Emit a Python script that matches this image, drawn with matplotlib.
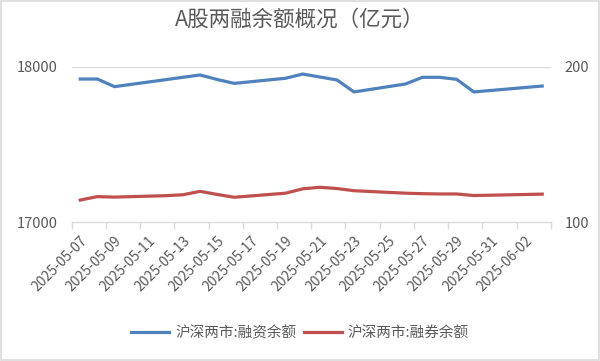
import numpy as np
import matplotlib
matplotlib.use("Agg")
import matplotlib.pyplot as plt
import matplotlib.dates as mdates
from matplotlib.patches import Rectangle

plt.rcParams['font.family'] = ['Noto Sans CJK SC', 'DejaVu Sans']

# --- DATA ---
dates = ["2025-05-07", "2025-05-08", "2025-05-09", "2025-05-12", "2025-05-13",
         "2025-05-14", "2025-05-15", "2025-05-16", "2025-05-19", "2025-05-20",
         "2025-05-21", "2025-05-22", "2025-05-23", "2025-05-26", "2025-05-27",
         "2025-05-28", "2025-05-29", "2025-05-30", "2025-06-03"]
margin_finance = [17921, 17921, 17872, 17917, 17932, 17947, 17918, 17893, 17926, 17953,
                  17934, 17915, 17838, 17889, 17932, 17932, 17919, 17838, 17876]
margin_short = [114.4, 116.6, 116.3, 117.2, 117.8, 120.0, 118.0, 116.2, 118.8, 121.6,
                122.6, 121.8, 120.4, 118.8, 118.5, 118.3, 118.3, 117.3, 118.2]
series_names = ["沪深两市:融资余额", "沪深两市:融券余额"]
title = "A股两融余额概况（亿元）"
left_ticks = [17000, 18000]
right_ticks = [100, 200]
x_start, x_end = "2025-05-07", "2025-06-04"

BLUE = "#4F81BD"
RED = "#C0504D"
TXT = "#595959"
GRID = "#D9D9D9"

d = np.array(dates, dtype="datetime64[D]")
x = mdates.date2num(d) + 0.5  # points sit in the middle of each day slot
x0 = mdates.date2num(np.datetime64(x_start))
x1 = mdates.date2num(np.datetime64(x_end))

fig = plt.figure(figsize=(6.0, 3.61), dpi=100)
ax = fig.add_axes([0.1195, 0.3837, 0.7985, 0.4315])
ax2 = ax.twinx()

l1, = ax.plot(x, margin_finance, color=BLUE, lw=2.3, solid_joinstyle="round")
l2, = ax2.plot(x, margin_short, color=RED, lw=2.3, solid_joinstyle="round")

ax.set_xlim(x0, x1)
ax.set_ylim(left_ticks[0], left_ticks[-1])
ax2.set_ylim(right_ticks[0], right_ticks[-1])
ax.set_yticks(left_ticks)
ax2.set_yticks(right_ticks)
ax.axhline(left_ticks[-1], color=GRID, lw=1, zorder=0)

for a in (ax, ax2):
    for s in ("top", "left", "right"):
        a.spines[s].set_visible(False)
    a.spines["bottom"].set_visible(False)
    a.tick_params(axis="y", length=0, labelsize=10.5, labelcolor=TXT, pad=10)
ax.spines["bottom"].set_visible(True)
ax.spines["bottom"].set_color(GRID)
ax.spines["bottom"].set_linewidth(1)

# tick marks at slot borders every 2 days, labels in the middle of the slot
major = np.arange(x0, x1 + 0.1, 2)
ax.set_xticks(major)
ax.set_xticklabels([])
ax.tick_params(axis="x", which="major", length=5, color=GRID, width=1)
minor = major[:-1] + 0.5
ax.set_xticks(minor, minor=True)
ax.set_xticklabels([mdates.num2date(v).strftime("%Y-%m-%d") for v in major[:-1]],
                   minor=True, rotation=45, ha="right", va="top",
                   rotation_mode="anchor", fontsize=10, color=TXT)
ax.tick_params(axis="x", which="minor", length=0, pad=8)

fig.text(0.5, 0.945, title, ha="center", va="center", fontsize=15.5, color=TXT)

fig.legend([l1, l2], series_names, loc="center", bbox_to_anchor=(0.5, 0.078),
           ncol=2, frameon=False, fontsize=10.5, handlelength=2.6,
           handletextpad=0.4, columnspacing=0.5, labelcolor=TXT)

fig.patches.append(Rectangle((0.002, 0.003), 0.996, 0.994, transform=fig.transFigure,
                             fill=False, edgecolor=GRID, lw=1.2))

fig.savefig("out.png", dpi=100)
